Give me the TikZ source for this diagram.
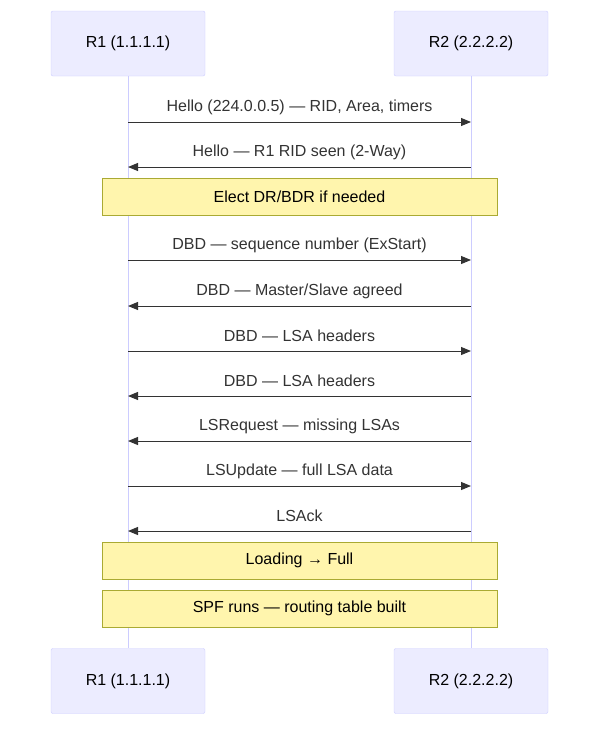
\documentclass[tikz,border=0pt]{standalone}
\usepackage{fontspec}
\setmainfont{Liberation Sans}
\usetikzlibrary{arrows.meta}
\definecolor{actfill}{HTML}{ECECFF}
\definecolor{actline}{HTML}{CCCCFF}
\definecolor{notefill}{HTML}{FFF5AD}
\definecolor{noteline}{HTML}{AAAA33}
\definecolor{txt}{HTML}{333333}
\begin{document}
\begin{tikzpicture}[x=1pt,y=-1pt,
  actor/.style={draw=actline,fill=actfill,rounded corners=2pt,minimum width=154pt,minimum height=65pt,inner sep=0pt,font=\fontsize{16}{19}\selectfont},
  note/.style={draw=noteline,fill=notefill,minimum width=395pt,minimum height=37pt,inner sep=0pt,font=\fontsize{16}{19}\selectfont},
  life/.style={draw=actline,line width=1pt},
  msg/.style={draw=txt,line width=1pt,-{Triangle[length=10pt,width=8pt]}},
  lbl/.style={text=txt,font=\fontsize{16}{19}\selectfont}]
\useasboundingbox (0,0) rectangle (600,736);
\node[actor] (a1) at (128,43.5) {R1 (1.1.1.1)};
\node[actor] (a2) at (471,43.5) {R2 (2.2.2.2)};
\node[actor] (b1) at (128,681) {R1 (1.1.1.1)};
\node[actor] (b2) at (471,681) {R2 (2.2.2.2)};
\draw[life] (a1.south) -- (b1.north);
\draw[life] (a2.south) -- (b2.north);
\newcommand{\mymsg}[4]{%
  \coordinate (l#4) at (128,#1); \coordinate (r#4) at (471,#1);
  \ifnum#2=1 \draw[msg] (l#4) -- (r#4); \else \draw[msg] (r#4) -- (l#4); \fi
  \node[lbl] at (299.5,#1-15) {#3};}
\mymsg{122}{1}{Hello (224.0.0.5) — RID, Area, timers}{1}
\mymsg{167}{0}{Hello — R1 RID seen (2-Way)}{2}
\node[note] (n1) at (299.5,196.5) {Elect DR/BDR if needed};
\mymsg{260}{1}{DBD — sequence number (ExStart)}{3}
\mymsg{306}{0}{DBD — Master/Slave agreed}{4}
\mymsg{351}{1}{DBD — LSA headers}{5}
\mymsg{396}{0}{DBD — LSA headers}{6}
\mymsg{441}{0}{LSRequest — missing LSAs}{7}
\mymsg{486}{1}{LSUpdate — full LSA data}{8}
\mymsg{531}{0}{LSAck}{9}
\node[note] (n2) at (299.5,560.5) {Loading → Full};
\node[note] (n3) at (299.5,608.5) {SPF runs — routing table built};
\end{tikzpicture}
\end{document}
